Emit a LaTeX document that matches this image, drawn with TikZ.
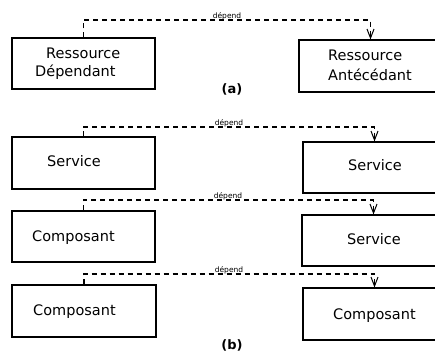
\documentclass[tikz,border=0pt]{standalone}
\usepackage{fontspec}
\setmainfont{DejaVu Sans}
\usetikzlibrary{arrows.meta}
\tikzset{
  box/.style={draw, line width=1.1pt, minimum width=143pt, minimum height=51pt, inner sep=0pt},
  txt/.style={anchor=base west, inner sep=0pt, font=\fontsize{14.5}{17}\selectfont},
  dep/.style={draw, line width=1.1pt, dash pattern=on 5pt off 4pt, -{Straight Barb[length=9pt,width=7pt,line width=1pt]}},
  deplab/.style={anchor=base, inner sep=0pt, font=\fontsize{7.5}{9}\selectfont},
  subcap/.style={inner sep=0pt, font=\bfseries\fontsize{13}{15}\selectfont}
}
\begin{document}
\begin{tikzpicture}[x=1pt,y=-1pt]
\path[use as bounding box] (0,0) rectangle (435,352);
\clip (0,0) rectangle (435,352);
\fill[white] (0,0) rectangle (435,352);
% (a)
\node[box, minimum height=51pt] (A1) at (83.5,63.5) {};
\node[box, minimum height=52pt] (A2) at (370.5,66) {};
\node[txt] (tA1a) at (46,59) {Ressource};
\node[txt] (tA1b) at (35,76.5) {Dépendant};
\node[txt] (tA2a) at (328,61) {Ressource};
\node[txt] (tA2b) at (328,81) {Antécédant};
\coordinate (m1) at (227,20);
\draw[dep] (A1.north) |- (m1) -| (A2.north);
\node[deplab] (d1) at (227,18.5) {dépend};
\node[subcap] (capa) at (232,89) {(a)};
% (b)
\node[box, minimum height=52pt] (S1) at (83.5,163) {};
\node[box] (S2) at (374.5,167.5) {};
\node[txt] (tS1) at (47,167) {Service};
\node[txt] (tS2) at (348,171) {Service};
\coordinate (m2) at (229,127);
\draw[dep] (S1.north) |- (m2) -| (S2.north);
\node[deplab] (d2) at (229,125.5) {dépend};
\node[box] (C1) at (83.5,236.5) {};
\node[box] (S3) at (373.5,240.5) {};
\node[txt] (tC1) at (32,241) {Composant};
\node[txt] (tS3) at (347,244) {Service};
\coordinate (m3) at (228,200);
\draw[dep] (C1.north) |- (m3) -| (S3.north);
\node[deplab] (d3) at (228,198.5) {dépend};
\node[box, minimum height=52pt, minimum width=144pt] (C2) at (84,311) {};
\node[box, minimum height=52pt] (C3) at (374.5,314) {};
\node[txt] (tC2) at (33,315.5) {Composant};
\node[txt] (tC3) at (333,319) {Composant};
\coordinate (m4) at (229,274);
\draw[dep] (C2.north) |- (m4) -| (C3.north);
\node[deplab] (d4) at (229,272.5) {dépend};
\node[subcap] (capb) at (232,345) {(b)};
\end{tikzpicture}
\end{document}
